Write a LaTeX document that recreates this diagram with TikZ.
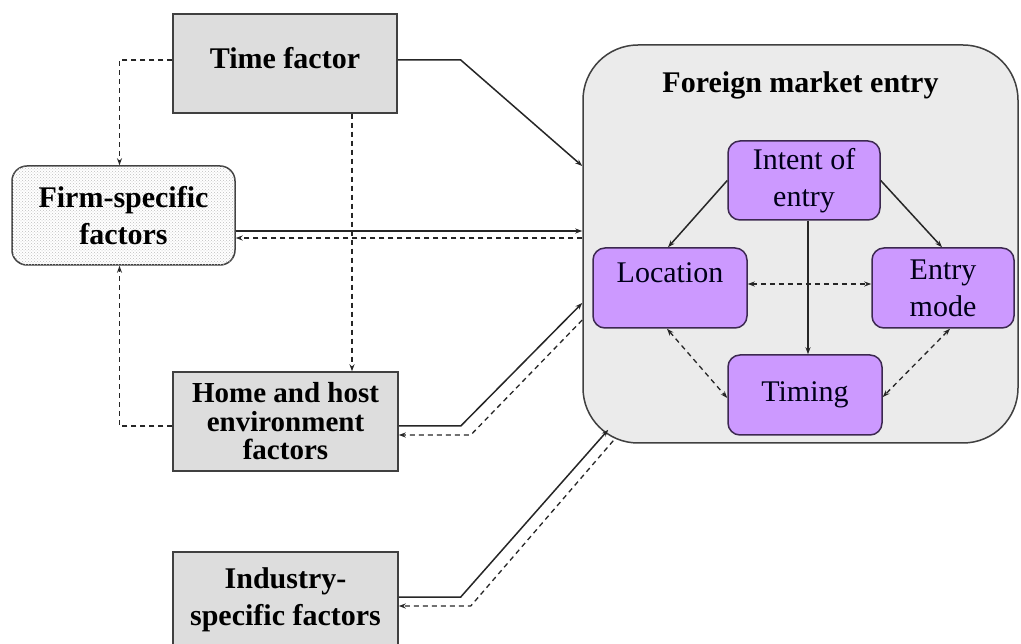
\documentclass[tikz,border=0pt]{standalone}
\usepackage{fontspec}
\setmainfont{Liberation Serif}
\usetikzlibrary{arrows.meta,patterns,calc}
\definecolor{boxgray}{RGB}{221,221,221}
\definecolor{biggray}{RGB}{235,235,235}
\definecolor{lilac}{RGB}{204,153,255}
\definecolor{edge}{RGB}{64,64,64}
\definecolor{pedge}{RGB}{60,40,80}
\tikzset{
  outerbox/.style={draw=edge, line width=1.5pt, fill=boxgray, align=center, inner sep=0pt,
    font=\fontsize{30}{37}\selectfont\bfseries},
  innerbox/.style={draw=pedge, line width=1.5pt, fill=lilac, rounded corners=12pt, align=center,
    inner sep=0pt, minimum height=80pt, font=\fontsize{30}{37}\selectfont, text=black!90!blue},
  arr/.style={line width=1.5pt, draw=black!85, -{Stealth[length=7pt,width=5pt]}},
  darr/.style={line width=1.3pt, draw=black!85, dash pattern=on 5pt off 4pt, -{Stealth[length=7pt,width=5pt]}},
  dbarr/.style={line width=1.3pt, draw=black!85, dash pattern=on 5pt off 4pt, {Stealth[length=7pt,width=5pt]}-{Stealth[length=7pt,width=5pt]}},
}
\begin{document}
\begin{tikzpicture}[x=1pt,y=-1pt]
\path[use as bounding box] (0,0) rectangle (1021,644);
\fill[white] (0,0) rectangle (1021,644);
\clip (0,0) rectangle (1021,644);

% big box
\node[draw=edge, line width=1.5pt, fill=biggray, rounded corners=55pt, minimum width=435pt, minimum height=398pt, inner sep=0pt] (fme) at (800.5,244) {};
\node[font=\fontsize{30}{37}\selectfont\bfseries, inner sep=0pt] (title) at (800.5,85) {Foreign market entry};

% outer boxes
\node[outerbox, minimum width=224pt, minimum height=99pt] (time) at (285,63.5) {\raisebox{5pt}[\height][\depth]{Time factor}};
\node[outerbox, fill=white, rounded corners=15pt, minimum width=223pt, minimum height=99pt,
      postaction={pattern=crosshatch dots, pattern color=gray!50}] (firm) at (123.5,215.5) {Firm-specific\\factors};
\node[outerbox, minimum width=225pt, minimum height=99pt, font=\fontsize{29}{28.5}\selectfont\bfseries] (home) at (285.5,421.5) {Home and host\\environment\\factors};
\node[outerbox, minimum width=225pt, minimum height=96pt] (ind) at (285.5,600) {Industry-\\specific factors};

% inner boxes
\node[innerbox, minimum width=152pt, minimum height=79pt] (intent) at (804,180.5) {Intent of\\entry};
\node[innerbox, minimum width=154pt] (loc) at (670,288) {Location\\[-18pt]\strut};
\node[innerbox, minimum width=142pt] (mode) at (943,288) {Entry\\mode};
\node[innerbox, minimum width=154pt] (timing) at (805,395) {Timing};

% outer connectors
\draw[arr] ([yshift=3.5pt]time.east) -- ++(63,0) -- ([yshift=78pt]fme.west);
\draw[arr] ([yshift=-15.5pt]firm.east) coordinate (fa) -- (fa -| fme.west);
\coordinate (fb) at ([yshift=-22.5pt]firm.east);
\draw[darr] (fb -| fme.west) -- (fb);
\draw[arr] ([yshift=-4.5pt]home.east) -- ++(62,0) -- ([yshift=-59pt]fme.west);
\draw[darr] ([yshift=-76pt]fme.west) -- ([shift={(72pt,-13.5pt)}]home.east) -- ([yshift=-13.5pt]home.east);
\draw[arr] ([yshift=3pt]ind.east) -- ++(62,0) -- ([shift={(26pt,14pt)}]fme.south west);
\draw[darr] ([shift={(31pt,3pt)}]fme.south west) -- ([shift={(72pt,-6pt)}]ind.east) -- ([yshift=-6pt]ind.east);
\draw[darr] ([yshift=3.5pt]time.west) -| ([xshift=-4pt]firm.north);
\draw[darr] ([yshift=-4.5pt]home.west) -| ([xshift=-4pt]firm.south);
\draw[darr] ([xshift=67pt]time.south) -- ([xshift=66.5pt]home.north);

% inner connectors
\draw[arr] (intent.west) -- ([xshift=-2pt]loc.north);
\draw[arr] (intent.east) -- ([xshift=-1pt]mode.north);
\draw[arr] ([xshift=4pt]intent.south) coordinate (ia) -- (ia |- timing.north);
\draw[dbarr] ([yshift=4pt]loc.east) coordinate (la) -- (la -| mode.west);
\draw[dbarr] ([xshift=-3pt]loc.south) -- ([yshift=-3pt]timing.west);
\draw[dbarr] ([xshift=7pt]mode.south) -- ([yshift=-2pt]timing.east);
\end{tikzpicture}
\end{document}
